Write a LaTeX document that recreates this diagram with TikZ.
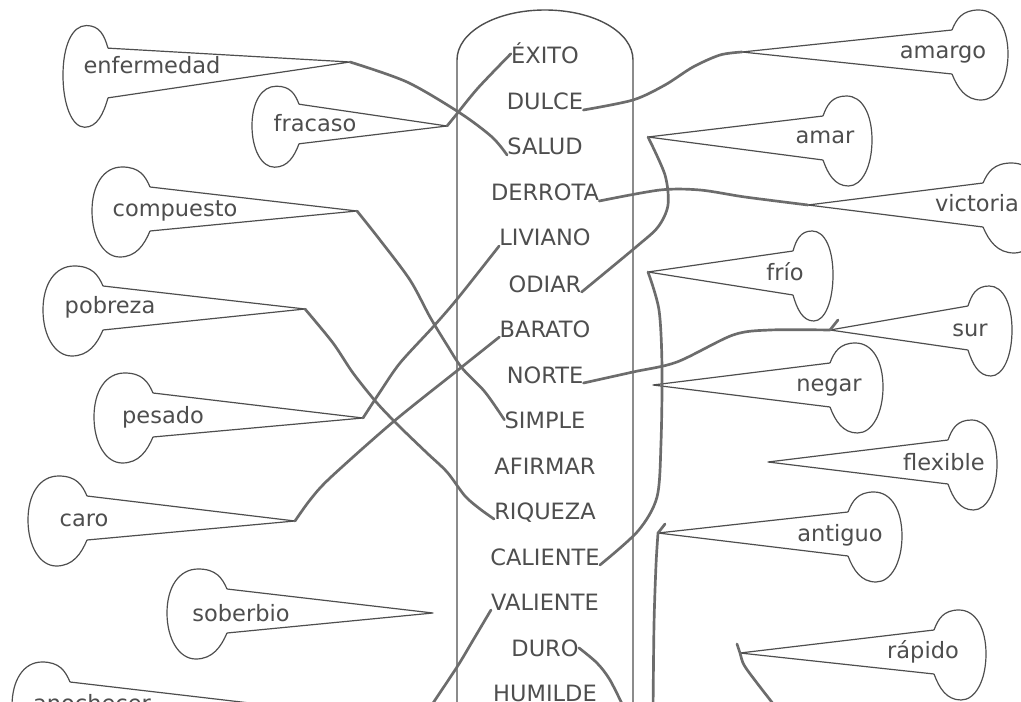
\documentclass[tikz,border=0pt]{standalone}
\usepackage{fontspec}
\setmainfont{DejaVu Sans}
\usepackage{xcolor}
\usetikzlibrary{calc}
\definecolor{inkgray}{RGB}{78,78,78}
\definecolor{pengray}{RGB}{108,108,108}
\newcommand{\wordfont}{\fontsize{16}{19}\selectfont}
% bulb of a balloon: name, neck point, xscale, yscale
\newcommand{\bulbat}[4]{%
  \begin{scope}[shift={#2},xscale=#3,yscale=#4]
    \draw[outline] (0,-22) .. controls (4,-33) and (9,-42) .. (24,-42)
      .. controls (40,-42) and (50,-24) .. (50,2)
      .. controls (50,28) and (40,48) .. (26,48)
      .. controls (12,48) and (5,36) .. (0,22);
    \coordinate (#1-top) at (0,-22);
    \coordinate (#1-bot) at (0,22);
  \end{scope}}

\begin{document}
\begin{tikzpicture}[
  x=0.025cm, y=-0.025cm,
  outline/.style={draw=inkgray,line width=0.85pt,line join=round},
  frame/.style={draw=inkgray,line width=1pt},
  pen/.style={draw=pengray,line width=1.9pt,line cap=round,line join=round},
  word/.style={font=\wordfont,text=inkgray,inner sep=0pt,anchor=base}
]
\fill[white] (0,0) rectangle (1021,702);
\useasboundingbox (0,0) rectangle (1021,702);

% middle column
\draw[frame] (457,720) -- (457,60) .. controls (457,32) and (496,10) .. (545,10)
  .. controls (594,10) and (633,32) .. (633,60) -- (633,720);
\node[word] (exito)    at (545,64)  {ÉXITO};
\node[word] (dulce)    at (545,110) {DULCE};
\node[word] (salud)    at (545,155) {SALUD};
\node[word] (derrota)  at (545,201) {DERROTA};
\node[word] (liviano)  at (545,246) {LIVIANO};
\node[word] (odiar)    at (545,292) {ODIAR};
\node[word] (barato)   at (545,337) {BARATO};
\node[word] (norte)    at (545,383) {NORTE};
\node[word] (simple)   at (545,428) {SIMPLE};
\node[word] (afirmar)  at (545,474) {AFIRMAR};
\node[word] (riqueza)  at (545,519) {RIQUEZA};
\node[word] (caliente) at (545,565) {CALIENTE};
\node[word] (valiente) at (545,610) {VALIENTE};
\node[word] (duro)     at (545,656) {DURO};
\node[word] (humilde)  at (545,701) {HUMILDE};

% left balloons
\bulbat{enfermedad}{(108,73)}{-0.9}{1.13}
\bulbat{fracaso}{(299,124)}{-0.94}{0.9}
\bulbat{compuesto}{(150,209)}{-1.16}{1}
\bulbat{pobreza}{(103,308)}{-1.2}{1}
\bulbat{pesado}{(153,415)}{-1.18}{1}
\bulbat{caro}{(87,518)}{-1.18}{1}
\bulbat{soberbio}{(227,611)}{-1.2}{1}
\bulbat{anochecer}{(70,704)}{-1.16}{1}
\coordinate (enfermedad-tip) at (350,62);
\coordinate (fracaso-tip) at (447,126);
\coordinate (compuesto-tip) at (357,211);
\coordinate (pobreza-tip) at (305,309);
\coordinate (pesado-tip) at (363,418);
\coordinate (caro-tip) at (295,521);
\coordinate (soberbio-tip) at (433,613);
\coordinate (anochecer-tip) at (284,707);
\foreach \b in {enfermedad,fracaso,compuesto,pobreza,pesado,caro,soberbio,anochecer}
  \draw[outline] (\b-top) -- (\b-tip) -- (\b-bot);
\node[word] (enfermedad) at (152,74)  {enfermedad};
\node[word] (fracaso)    at (315,132) {fracaso};
\node[word] (compuesto)  at (175,217) {compuesto};
\node[word] (pobreza)    at (110,314) {pobreza};
\node[word] (pesado)     at (163,423) {pesado};
\node[word] (caro)       at (84,526)  {caro};
\node[word] (soberbio)   at (241,621) {soberbio};
\node[word] (anochecer)  at (92,711)  {anochecer};

% right balloons
\bulbat{amargo}{(952,52)}{1.12}{1}
\bulbat{amar}{(823,138)}{0.98}{1}
\bulbat{victoria}{(983,205)}{1.2}{1}
\bulbat{frio}{(793,273)}{0.8}{1}
\bulbat{sur}{(968,328)}{0.88}{1}
\bulbat{negar}{(830,385)}{1.06}{1}
\bulbat{flexible}{(948,462)}{0.98}{1}
\bulbat{antiguo}{(848,534)}{1.08}{1}
\bulbat{rapido}{(934,652)}{1.04}{1}
\coordinate (amargo-tip) at (742,52);
\coordinate (amar-tip) at (648,137);
\coordinate (victoria-tip) at (808,205);
\coordinate (frio-tip) at (648,272);
\coordinate (sur-tip) at (830,330);
\coordinate (negar-tip) at (653,385);
\coordinate (flexible-tip) at (768,462);
\coordinate (antiguo-tip) at (658,533);
\coordinate (rapido-tip) at (740,653);
\foreach \b in {amargo,amar,victoria,frio,sur,negar,flexible,antiguo,rapido}
  \draw[outline] (\b-top) -- (\b-tip) -- (\b-bot);
\node[word] (amargo)   at (943,59)  {amargo};
\node[word] (amar)     at (825,144) {amar};
\node[word] (victoria) at (977,212) {victoria};
\node[word] (frio)     at (785,281) {frío};
\node[word] (sur)      at (970,336) {sur};
\node[word] (negar)    at (829,391) {negar};
\node[word] (flexible) at (944,470) {flexible};
\node[word] (antiguo)  at (840,541) {antiguo};
\node[word] (rapido)   at (923,658) {rápido};

% pencil lines
\coordinate (antiguo-end) at (653,715);
\coordinate (rapido-end) at (778,710);
\coordinate (duro-end) at (625,710);
\coordinate (valiente-end) at (427,712);
\draw[pen] plot[smooth] coordinates {(enfermedad-tip) (407,82) (460,113) (492,137) (salud.base west)};
\draw[pen] plot[smooth] coordinates {(fracaso-tip) (456,115) (478,88) (exito.west)};
\draw[pen] plot[smooth] coordinates {(dulce.base east) (633,100) (665,85) (693,67) (720,55) (amargo-tip)};
\draw[pen] plot[smooth] coordinates {(derrota.base east) (660,190) (700,190) (745,197) (victoria-tip)};
\draw[pen] plot[smooth] coordinates {(amar-tip) (665,175) (668,205) (658,227) (636,247) (odiar.base east)};
\draw[pen] plot[smooth] coordinates {(liviano.base west) (458,298) (433,327) (400,363) (380,392) (pesado-tip)};
\draw[pen] plot[smooth] coordinates {(barato.base west) (458,370) (393,422) (330,478) (310,500) (caro-tip)};
\draw[pen] plot[smooth] coordinates {(compuesto-tip) (380,240) (410,280) (430,317) (447,345) (462,368) (485,392) (simple.west)};
\draw[pen] plot[smooth] coordinates {(pobreza-tip) (333,343) (353,373) (377,403) (400,427) (427,453) (447,472) (465,496) (480,509) (riqueza.base west)};
\draw[pen] plot[smooth] coordinates {(caliente.base east) (638,531) (657,497) (661,443) (662,367) (659,310) (frio-tip)};
\draw[pen] plot[smooth] coordinates {(norte.base east) (633,372) (677,362) (733,335) (770,330) (sur-tip)} -- ++(8,-10);
\draw[pen] ([shift={(7,-9)}]antiguo-tip) -- plot[smooth] coordinates {(antiguo-tip) (656,565) (654,625) (antiguo-end)};
\draw[pen] plot[smooth] coordinates {([shift={(-3,-9)}]rapido-tip) (rapido-tip) (744,665) (757,683) (rapido-end)};
\draw[pen] plot[smooth] coordinates {(duro.east) (597,663) (610,680) (duro-end)};
\draw[pen] plot[smooth] coordinates {(valiente.base west) (472,642) (457,667) (valiente-end)};
\end{tikzpicture}
\end{document}
